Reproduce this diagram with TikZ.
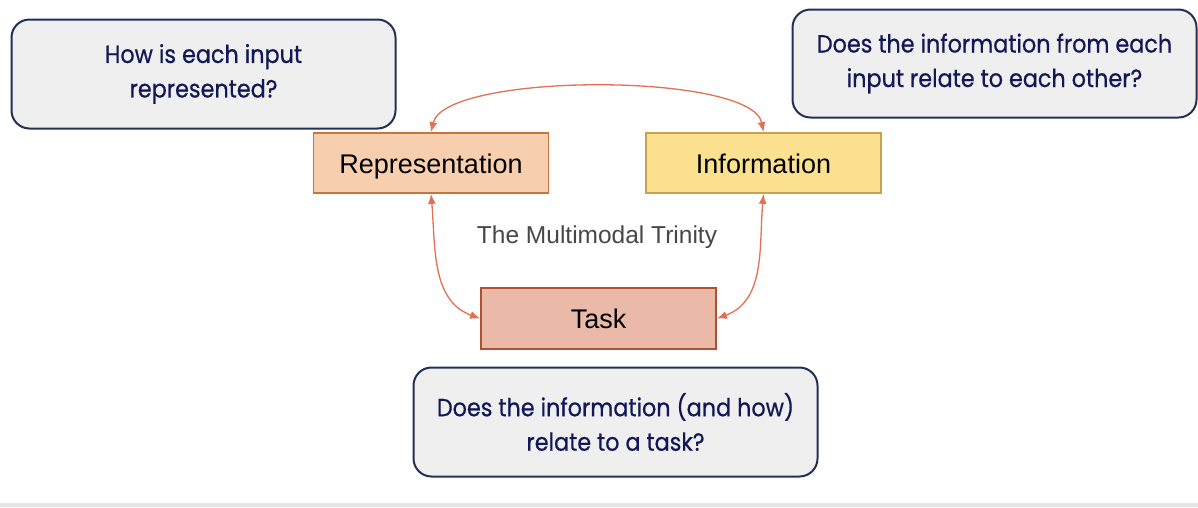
\documentclass[tikz,border=0pt]{standalone}
\usepackage{fontspec}
\usetikzlibrary{arrows.meta}
\newfontfamily\qfont{Poppins}[FakeStretch=0.9,FakeBold=0.6]
\newfontfamily\lfont{Liberation Sans}
\definecolor{qtext}{RGB}{18,24,86}
\definecolor{qline}{RGB}{34,48,84}
\definecolor{qfill}{RGB}{239,239,239}
\definecolor{repfill}{RGB}{248,207,174}
\definecolor{repline}{RGB}{200,116,60}
\definecolor{infofill}{RGB}{250,224,143}
\definecolor{infoline}{RGB}{200,162,76}
\definecolor{taskfill}{RGB}{235,185,168}
\definecolor{taskline}{RGB}{176,80,48}
\definecolor{linkred}{RGB}{226,112,82}
\begin{document}
\begin{tikzpicture}[x=1pt,y=-1pt,
    question/.style={draw=qline,fill=qfill,line width=2pt,rounded corners=18pt,
      align=center,text=qtext,font=\qfont\fontsize{24.8}{34.5}\selectfont},
    part/.style={draw,line width=1.8pt,minimum width=235pt,minimum height=60pt,
      text height=22pt,text depth=2pt,font=\lfont\fontsize{27}{30}\selectfont},
    link/.style={draw=linkred,line width=1.3pt,{Latex[length=10pt,width=8pt]}-{Latex[length=10pt,width=8pt]}}]
  \useasboundingbox (0,0) rectangle (1198,507);
  \fill[black!10] (0,503) rectangle (1198,507);
  \node[question,minimum width=384pt,minimum height=109pt] (q1) at (203.5,74) {How is each input\\represented?};
  \node[question,minimum width=404pt,minimum height=108pt] (q2) at (994.5,63.5) {Does the information from each\\input relate to each other?};
  \node[question,minimum width=404pt,minimum height=109pt] (q3) at (615.5,422) {Does the information (and how)\\relate to a task?};
  \node[part,fill=repfill,draw=repline] (rep) at (431,163) {Representation};
  \node[part,fill=infofill,draw=infoline] (info) at (763.5,163) {Information};
  \node[part,fill=taskfill,draw=taskline,minimum height=61pt] (task) at (598.5,318.5) {Task};
  \node[text=black!72,font=\lfont\fontsize{24.5}{28}\selectfont] (title) at (597,237) {The Multimodal Trinity};
  \draw[link] (rep.north) .. controls (445,72) and (752,72) .. (info.north);
  \draw[link] (rep.south) to[out=-85,in=160] (task.west);
  \draw[link] (info.south) to[out=-95,in=20] (task.east);
\end{tikzpicture}
\end{document}
